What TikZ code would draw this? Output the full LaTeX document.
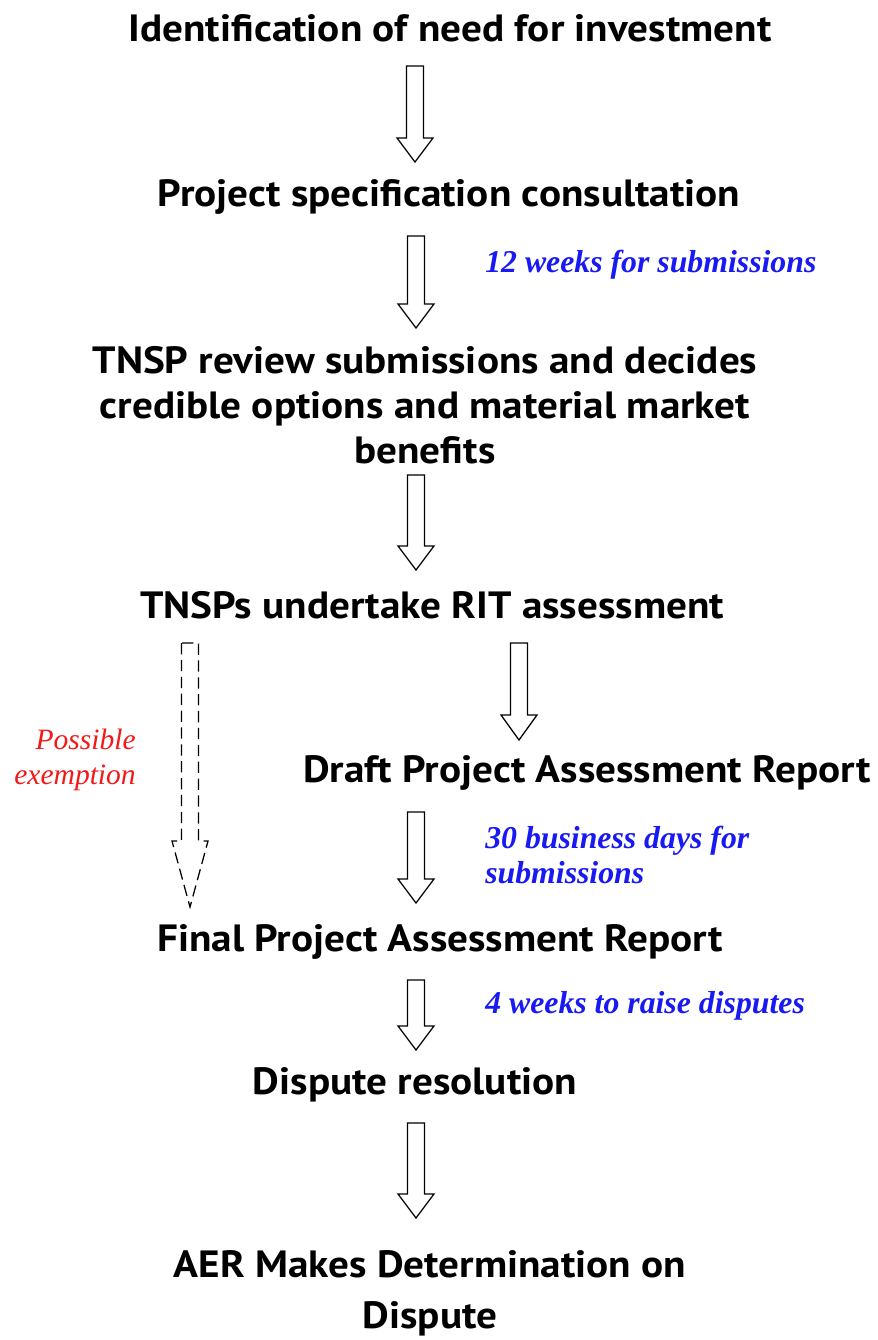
\documentclass[tikz,border=0pt]{standalone}
\usepackage{fontspec}
\usepackage{tikz}
\usetikzlibrary{calc}
\usetikzlibrary{positioning}
\setsansfont{PT Sans}[FakeStretch=1.085]
\newfontfamily\notefont{Liberation Serif}
\definecolor{noteblue}{rgb}{0.1,0.1,0.95}
\definecolor{notered}{rgb}{0.95,0.1,0.1}

% hollow block arrow between two named coordinates
\newcommand{\blockarrow}[4][]{%
  \draw[blockline,#1] ($(#2)+(-8.5,0)$) -- ($(#3)+(-8.5,-#4)$) -- ($(#3)+(-18,-#4)$)
     -- (#3) -- ($(#3)+(18,-#4)$) -- ($(#3)+(8.5,-#4)$) -- ($(#2)+(8.5,0)$) -- cycle;}

\begin{document}
\begin{tikzpicture}[
            x = 0.025cm, y = -0.025cm, % one unit per pixel, downwards
            blockline/.style = {line width = 0.9pt, fill = white},
            every node/.style = {inner sep = 0pt}
            ]

        \tikzstyle{stage}=[
            font = \sffamily\bfseries\fontsize{27}{32}\selectfont,
            align = center
        ]
        \tikzstyle{note}=[
            font = \notefont\bfseries\itshape\fontsize{22.6}{25}\selectfont,
            text = noteblue,
            align = left,
            anchor = west
        ]

        \useasboundingbox (0,0) rectangle (878,1340);

	% stages
        \node[stage] (idn) at (450,28) {Identification of need for investment};
        \node[stage] (psc) at (449,197) {Project specification consultation};
        \node[stage] (tnsp) at (425,405) {TNSP review submissions and decides\\credible options and material market\\benefits};
        \node[stage] (rit) at (432,605) {TNSPs undertake RIT assessment};
        \node[stage] (dpar) at (587,773) {Draft Project Assessment Report};
        \node[stage] (fpar) at (440,942) {Final Project Assessment Report};
        \node[stage] (dr) at (415,1085) {Dispute resolution};
        \node[stage, font = \sffamily\bfseries\fontsize{27}{36}\selectfont] (aer) at (430,1293) {AER Makes Determination on\\Dispute};

	% time limits
        \node[note] (n12) at (485,265) {12 weeks for submissions};
        \node[note] (n30) at (485,855) {30 business days for\\submissions};
        \node[note] (n4) at (485,1006) {4 weeks to raise disputes};
        \node[note, text = notered, font = \notefont\itshape\fontsize{21}{25}\selectfont,
              align = right, anchor = east] (ex) at (136,760) {Possible\\exemption};

	% arrow ends
        \coordinate (a1s) at (415,66);   \coordinate (a1e) at (415,162);
        \coordinate (a2s) at (416,236);  \coordinate (a2e) at (416,328);
        \coordinate (a3s) at (416,475);  \coordinate (a3e) at (416,570);
        \coordinate (a4s) at (519,643);  \coordinate (a4e) at (519,740);
        \coordinate (a5s) at (416,812);  \coordinate (a5e) at (416,903);
        \coordinate (a6s) at (416,980);  \coordinate (a6e) at (416,1050);
        \coordinate (a7s) at (416,1123); \coordinate (a7e) at (416,1218);
        \coordinate (exs) at (190,643);  \coordinate (exe) at (190,907);

        \blockarrow{a1s}{a1e}{24}
        \blockarrow{a2s}{a2e}{24}
        \blockarrow{a3s}{a3e}{24}
        \blockarrow{a4s}{a4e}{25}
        \blockarrow{a5s}{a5e}{24}
        \blockarrow{a6s}{a6e}{24}
        \blockarrow{a7s}{a7e}{24}

        % exemption path skips the draft report
        \blockarrow[dash pattern = on 8pt off 4pt]{exs}{exe}{66}

  \end{tikzpicture}
\end{document}
